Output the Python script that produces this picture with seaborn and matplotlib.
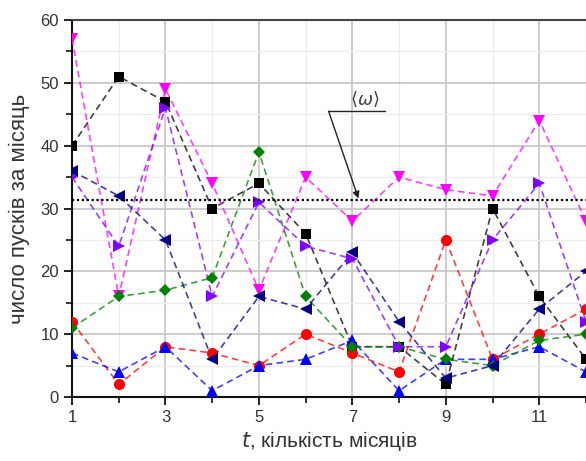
import numpy as np
import pandas as pd
import matplotlib
matplotlib.use("Agg")
import matplotlib.pyplot as plt
from matplotlib.ticker import MultipleLocator
import seaborn as sns

months = [1, 2, 3, 4, 5, 6, 7, 8, 9, 10, 11, 12]
black_sq = [40, 51, 47, 30, 34, 26, 8, 8, 2, 30, 16, 6]
red_circ = [12, 2, 8, 7, 5, 10, 7, 4, 25, 6, 10, 14]
blue_up = [7, 4, 8, 1, 5, 6, 9, 1, 6, 6, 8, 4]
magenta_down = [57, 16, 49, 34, 17, 35, 28, 35, 33, 32, 44, 28]
green_diam = [11, 16, 17, 19, 39, 16, 8, 8, 6, 5, 9, 10]
navy_left = [36, 32, 25, 6, 16, 14, 23, 12, 3, 5, 14, 20]
violet_right = [35, 24, 46, 16, 31, 24, 22, 8, 8, 25, 34, 12]
omega_mean = 31.4
omega_label = r"$\langle\omega\rangle$"
xlabel = "кількість місяців"
ylabel = "число пусків за місяць"
xticks = [1, 3, 5, 7, 9, 11]
yticks = [0, 10, 20, 30, 40, 50, 60]

series = [
    (black_sq, "#000000", "s"),
    (red_circ, "#FF0000", "o"),
    (blue_up, "#0000FF", "^"),
    (magenta_down, "#FF00FF", "v"),
    (green_diam, "#008000", "D"),
    (navy_left, "#000080", "<"),
    (violet_right, "#8000FF", ">"),
]

sns.set_style("white")
plt.rcParams["font.family"] = ["Liberation Sans", "DejaVu Sans"]

fig = plt.figure(figsize=(5.86, 4.61), dpi=100)
ax = fig.add_axes([0.1229, 0.1388, 0.8771, 0.8178])

for i, (vals, col, mk) in enumerate(series):
    df = pd.DataFrame({"t": months, "v": vals})
    sns.lineplot(data=df, x="t", y="v", ax=ax, color=col, linestyle=(0, (4, 2.5)),
                 linewidth=1.2, alpha=0.75, zorder=3 + i)
    ms = {"D": 6, "s": 7}.get(mk, 8)
    ax.plot(months, vals, linestyle="none", marker=mk, color=col, markersize=ms,
            markeredgewidth=0, zorder=10 + i)

ax.axhline(omega_mean, color="black", linestyle=(0, (1, 1.2)), linewidth=1.6, zorder=20)

# annotation for <omega>
ax.plot([6.49, 7.69], [45.5, 45.5], color="#222222", linewidth=1.0, zorder=21)
ax.annotate("", xy=(7.13, omega_mean + 0.2), xytext=(6.49, 45.5),
            arrowprops=dict(arrowstyle="-|>", color="#222222", lw=1.0,
                            mutation_scale=10, shrinkA=0, shrinkB=0), zorder=21)
ax.text(7.27, 47.3, omega_label, ha="center", va="center", fontsize=13, color="#444444")

ax.set_xlim(1, 12)
ax.set_ylim(0, 60)
ax.set_xticks(xticks)
ax.set_yticks(yticks)
ax.xaxis.set_minor_locator(MultipleLocator(1))
ax.yaxis.set_minor_locator(MultipleLocator(5))
ax.grid(True, which="major", color="#c4c4c4", linewidth=1.2, zorder=0)
ax.grid(True, which="minor", color="#ececec", linewidth=0.9, zorder=0)
ax.set_axisbelow(True)

for s in ["left", "bottom", "top"]:
    ax.spines[s].set_visible(True)
    ax.spines[s].set_color("#111111")
    ax.spines[s].set_linewidth(1.5)
ax.spines["right"].set_visible(False)
ax.spines["top"].set_color("#444444")

ax.tick_params(axis="both", which="major", direction="out", length=6, width=1.3,
               color="#111111", labelsize=12, labelcolor="#333333",
               bottom=True, left=True, top=False, right=False)
ax.tick_params(axis="both", which="minor", direction="out", length=4, width=1.2,
               color="#111111", bottom=True, left=True, top=False, right=False)

ax.set_xlabel(r"$t$, " + xlabel, fontsize=15, color="#333333", labelpad=3)
ax.set_ylabel(ylabel, fontsize=16, color="#333333", labelpad=7)

fig.savefig("out.png", dpi=100)
